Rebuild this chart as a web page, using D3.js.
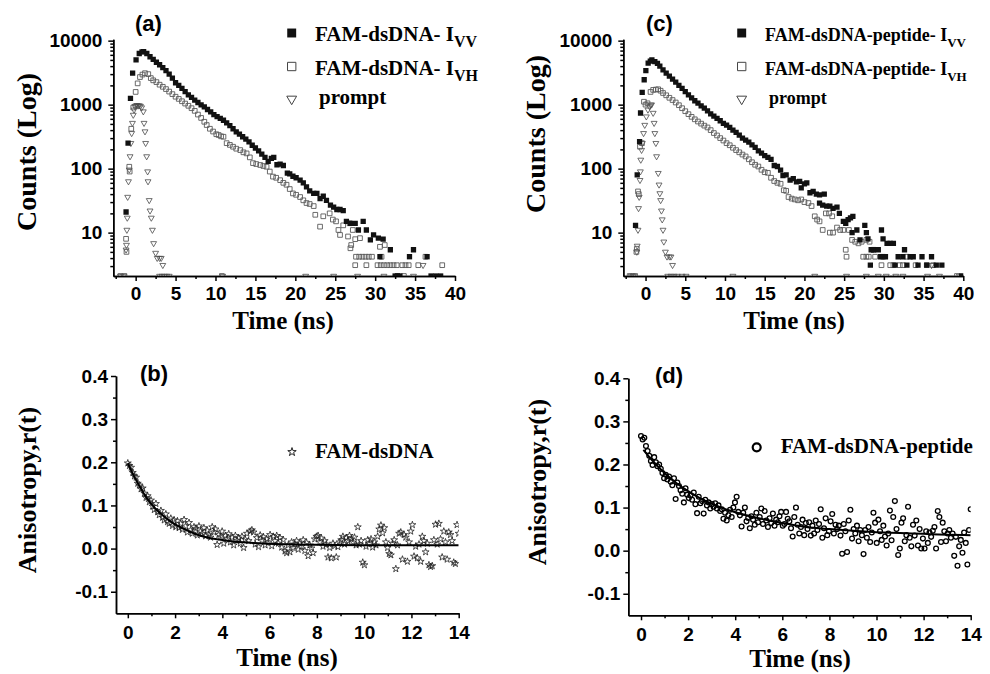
<!DOCTYPE html>
<html>
<head>
<meta charset="utf-8">
<title>FAM-dsDNA decay and anisotropy</title>
<style>
  body { margin: 0; background: #fff; }
  svg { display: block; background: #fff; }
  .tick text { font-family: "Liberation Sans", Arial, sans-serif; font-weight: bold; font-size: 19px; fill: #000; }
  .title { font-family: "Liberation Serif", "Times New Roman", serif; font-weight: bold; fill: #000; }
  .panel { font-family: "Liberation Sans", Arial, sans-serif; font-weight: bold; }
  .legend { font-family: "Liberation Serif", "Times New Roman", serif; font-weight: bold; }
</style>
<script src="https://d3js.org/d3.v7.min.js"></script>
</head>
<body>
<div id="chart"></div>
<script>
// ---- data: [time (ns), counts] ----
var ivvA = [[-1.2,21],[-0.95,250],[-0.65,1250],[-0.38,3100],[0.05,5000],[0.45,6300],[0.8,6700],[1.0,6750],
  [1.4,6300],[1.8,5600],[2.2,5100],[2.6,4600],[3.0,4200],[3.4,3800],[3.8,3400],[4.2,3000],[4.6,2600],[5.0,2200],
  [5.4,2000],[5.8,1800],[6.2,1600],[6.6,1420],[7.0,1300],[7.4,1180],[7.8,1080],[8.2,990],[8.6,920],[9.0,840],
  [9.4,770],[9.8,700],[10.2,650],[10.6,610],[11.0,570],[11.4,520],[11.8,470],[12.2,420],[12.6,375],[13.0,345],
  [13.4,315],[13.8,290],[14.2,262],[14.6,232],[15.0,210],[15.4,190],[15.8,168],[16.2,150],[16.6,130],[17.0,145],
  [17.3,150],[17.7,115],[18.1,118],[18.5,112],[19.0,85],[19.3,83],[19.7,76],[20.1,72],[20.6,66],[21.0,60],
  [21.4,52],[21.8,45],[22.3,41],[22.7,41],[23.1,34],[23.5,37],[23.9,32],[24.4,27],[24.8,25],[25.2,23],[25.6,23],
  [26.0,22],[26.4,15],[26.9,14],[27.5,14],[27.9,11],[28.5,15],[28.9,11],[29.4,7.7],[29.8,9.2],[30.4,8.2],
  [30.6,4.2],[31.0,7.9],[31.9,5.4],[32.5,2.1],[32.8,2.1],[33.1,2.1],[34.3,4.2],[34.8,5.4],[36.5,4.2],[37.0,2.1],
  [37.6,2.1],[38.2,2.1]];
var ivhA = [[-1.9,2.1],[-1.4,2.1],[-1.2,8],[-1.15,5],[-0.8,107],[-0.75,90],[-0.55,420],[-0.3,900],[0.0,1580],
  [0.25,2150],[0.54,2700],[0.85,2950],[1.17,3100],[1.58,3000],[1.9,2600],[2.2,2400],[2.6,2250],[3.0,2050],
  [3.4,1900],[3.8,1750],[4.2,1600],[4.6,1460],[5.0,1330],[5.4,1230],[5.8,1130],[6.2,1040],[6.6,960],[7.0,880],
  [7.4,800],[7.8,700],[8.2,620],[8.6,540],[8.9,480],[9.3,420],[9.7,380],[10.1,345],[10.4,335],[10.7,320],
  [11.0,315],[11.4,250],[11.8,235],[12.2,220],[12.6,205],[13.1,195],[13.5,180],[13.9,173],[14.3,150],[14.7,122],
  [15.1,118],[15.6,114],[16.0,110],[16.4,107],[16.8,90],[17.2,75],[17.6,72],[18.1,66],[18.5,60],[18.9,56],
  [19.3,48],[19.7,41],[20.1,39],[20.6,36],[21.0,32],[21.4,29],[21.8,28],[22.3,26],[22.5,19],[23.1,12.4],
  [23.5,18],[24.3,20],[24.7,16],[25.1,15],[25.4,11],[25.6,9.2],[26.0,13],[26.6,8.7],[26.8,14],[26.9,5.7],
  [27.0,6.4],[27.2,11],[27.5,7.9],[28.1,8.2],[27.6,4.2],[28.0,4.2],[28.4,4.2],[28.8,4.2],[29.2,4.2],[29.6,4.2],
  [30.6,6.0],[31.2,6.4],[30.8,4.2],[27.5,3.1],[28.9,3.1],[30.3,3.1],[30.7,3.1],[31.1,3.1],[31.5,3.1],[31.9,3.1],
  [32.3,3.1],[32.7,3.1],[33.4,3.1],[33.8,3.1],[34.2,3.1],[35.4,3.1],[36.3,4.2],[38.4,3.1],[10.8,2.1],[32.8,2.1],
  [33.6,2.1]];
var promptA = [[-1.9,2.1],[-1.5,2.1],[-1.2,5.4],[-1.15,6.4],[-1.1,11],[-1.05,17],[-1.0,36],[-0.9,63],[-0.8,96],
  [-0.7,155],[-0.6,250],[-0.5,357],[-0.4,515],[-0.3,690],[-0.2,830],[-0.1,940],[0.0,960],[0.15,980],[0.3,960],
  [0.45,970],[0.6,950],[0.75,900],[0.96,780],[1.05,515],[1.17,380],[1.25,250],[1.38,155],[1.5,90],[1.55,63],
  [1.7,32],[1.8,22],[1.96,17],[2.1,11],[2.25,6.8],[2.5,4.8],[2.7,4.0],[3.0,4.0],[3.2,4.0],[3.4,3.1],[3.0,2.1],
  [3.3,2.1],[3.6,2.1],[3.9,2.1],[4.2,2.1],[10.9,2.1],[21.3,2.1],[24.8,2.1],[27.8,2.1],[31.1,2.1],[34.8,2.1],
  [36.0,3.1]];

var ivvC = [[-1.26,13],[-1.05,80],[-0.75,265],[-0.63,740],[-0.42,1550],[-0.17,2450],[0.04,3400],[0.33,4460],
  [0.6,4800],[0.8,5000],[1.17,4700],[1.5,4400],[1.8,4000],[2.2,3500],[2.6,3100],[3.0,2800],[3.4,2500],[3.8,2250],
  [4.2,2000],[4.6,1800],[5.0,1600],[5.4,1420],[5.8,1280],[6.2,1150],[6.6,1060],[7.0,960],[7.4,880],[7.8,800],
  [8.2,720],[8.6,660],[9.0,610],[9.4,560],[9.8,510],[10.2,480],[10.6,440],[11.0,400],[11.4,370],[11.8,335],
  [12.2,300],[12.6,280],[13.0,260],[13.4,235],[13.8,215],[14.2,190],[14.6,175],[15.0,160],[15.4,150],[15.8,140],
  [16.2,112],[16.6,108],[17.0,95],[17.3,78],[17.7,80],[18.2,66],[18.6,70],[19.0,62],[19.4,63],[19.6,50],
  [20.0,58],[20.3,60],[20.7,42],[21.1,44],[21.5,40],[21.9,39],[22.5,40],[21.9,29],[22.3,27],[22.8,26],[23.2,26],
  [23.6,24],[24.1,25],[24.4,20],[24.9,15],[25.2,14],[25.5,16],[25.8,17],[26.1,18],[26.0,10],[26.6,11],[27.0,7.7],
  [27.6,13],[27.8,10],[28.0,8],[28.4,5.4],[28.7,5.4],[29.3,5.4],[29.7,11],[29.9,8],[30.4,6.8],[30.8,6.8],
  [31.2,6.8],[28.3,3.1],[29.6,4.2],[30.2,4.2],[31.4,3.1],[31.8,4.2],[32.4,4.2],[32.6,5.4],[32.9,3.1],[33.3,4.2],
  [33.7,4.2],[34.3,3.1],[34.8,4.2],[35.4,3.1],[36.0,4.2],[36.6,3.1],[37.3,3.1],[39.8,2.1]];
var ivhC = [[-2.0,2.1],[-1.6,2.1],[-1.3,2.1],[-1.15,5.0],[-1.1,5.6],[-0.95,44],[-0.85,40],[-0.7,220],[-0.45,250],
  [-0.2,1110],[0.0,1000],[0.25,1050],[0.63,1580],[0.96,1700],[1.3,1720],[1.59,1740],[1.9,1650],[2.2,1520],
  [2.6,1400],[3.0,1280],[3.4,1180],[3.8,1080],[4.2,980],[4.6,880],[5.0,790],[5.4,710],[5.8,645],[6.2,590],
  [6.6,545],[7.0,505],[7.4,470],[7.8,440],[8.2,400],[8.6,360],[9.0,330],[9.4,300],[9.8,275],[10.2,250],[10.6,232],
  [11.0,212],[11.4,195],[11.8,180],[12.2,166],[12.6,155],[13.0,140],[13.4,126],[13.8,115],[14.2,108],[14.6,96],
  [15.0,88],[15.4,86],[15.8,72],[16.2,64],[16.6,60],[17.0,58],[17.4,46],[17.7,45],[18.0,36],[18.4,34],[18.8,33],
  [19.2,32],[19.6,33],[20.0,30],[20.5,29],[20.9,26],[21.3,18],[21.6,16],[21.9,15],[22.3,11],[22.7,20],[23.1,20],
  [23.5,18],[23.2,10],[23.6,10],[24.1,12],[24.5,11],[24.9,11],[25.2,5.4],[25.3,4.2],[25.6,11],[26.0,7.7],
  [26.4,7.2],[26.8,6.8],[27.2,7.2],[27.8,7.7],[28.2,7.2],[28.7,5.4],[27.4,4.2],[27.8,4.2],[28.1,4.2],[28.9,4.2],
  [29.9,4.2],[32.9,4.2],[29.7,3.1],[30.8,3.1],[31.2,3.1],[32.0,3.1],[32.4,3.1],[34.0,3.1],[35.4,3.1],[36.2,3.1],
  [39.2,2.1]];
var promptC = [[-1.8,2.1],[-1.5,2.1],[-1.1,5.0],[-1.05,6.2],[-0.95,11],[-0.88,24],[-0.8,36],[-0.7,66],[-0.65,90],
  [-0.6,137],[-0.5,195],[-0.4,250],[-0.25,357],[-0.1,480],[0.1,650],[0.3,830],[0.5,940],[0.65,990],[0.76,1000],
  [0.96,740],[1.08,515],[1.17,357],[1.3,250],[1.39,155],[1.6,85],[1.7,56],[1.8,41],[1.9,32],[2.0,22],[2.1,16],
  [2.2,11],[2.3,7.2],[2.5,5.0],[2.7,4.2],[3.0,4.2],[3.2,4.2],[3.4,3.1],[2.8,2.1],[3.2,2.1],[3.6,2.1],[4.0,2.1],
  [4.6,2.1],[5.1,2.1],[11.0,2.1],[21.3,2.1],[25.3,2.1],[27.8,2.1],[29.3,2.1],[30.3,2.1],[31.5,2.1],[32.4,2.1],
  [35.5,2.1],[36.0,3.1],[37.0,2.1],[39.5,2.1]];

// ---- anisotropy r(t), one value every 0.07 ns from t = 0 ----
var anisoStep = 0.07;
var rB = [0.198,0.192,0.188,0.176,0.168,0.165,0.151,0.147,0.138,0.140,0.128,0.118,0.122,0.108,0.112,
  0.098,0.090,0.104,0.085,0.078,0.088,0.072,0.066,0.080,0.062,0.058,0.070,0.053,0.066,0.050,
  0.064,0.048,0.058,0.044,0.067,0.052,0.038,0.060,0.043,0.035,0.050,0.046,0.031,0.052,0.040,
  0.035,0.048,0.029,0.042,0.033,0.026,0.050,0.038,0.045,0.009,0.032,0.027,0.040,0.012,0.030,
  0.022,0.034,0.015,0.026,0.008,0.030,0.019,0.024,0.012,0.028,0.002,0.021,0.035,0.018,0.040,
  0.043,0.038,0.010,0.025,0.004,0.031,0.019,0.027,0.008,0.022,0.015,0.032,0.006,0.028,0.018,
  0.030,0.012,0.025,0.003,0.020,-0.006,-0.010,0.008,-0.008,0.015,0.002,0.010,0.018,-0.002,0.012,
  0.005,0.020,-0.005,0.014,-0.017,0.008,0.001,-0.010,0.022,0.028,0.030,0.015,0.024,0.005,0.018,
  0.010,-0.020,0.002,-0.022,0.012,0.006,-0.020,0.004,0.015,0.020,0.028,0.010,0.025,0.018,0.030,
  0.022,0.015,0.026,0.008,0.050,0.010,0.018,-0.032,-0.038,0.005,0.020,0.012,0.022,0.003,0.015,
  0.008,0.028,0.045,0.054,0.036,0.048,0.015,0.002,-0.012,-0.015,0.012,0.020,-0.047,0.008,0.035,
  0.038,-0.025,0.032,0.026,-0.030,0.015,0.040,0.055,-0.018,0.005,-0.022,0.010,-0.030,0.028,0.018,
  -0.008,0.012,-0.038,-0.042,-0.040,0.020,0.056,0.010,0.058,0.022,-0.020,0.040,0.015,-0.025,0.038,
  0.032,0.018,-0.032,-0.035,0.055,0.035];
var rD = [0.266,0.258,0.262,0.243,0.231,0.220,0.208,0.199,0.217,0.205,0.196,0.200,0.190,0.180,0.168,
  0.176,0.165,0.172,0.160,0.152,0.168,0.120,0.158,0.150,0.140,0.132,0.112,0.145,0.130,0.122,
  0.128,0.118,0.135,0.108,0.087,0.125,0.110,0.115,0.086,0.118,0.105,0.112,0.098,0.108,0.102,
  0.110,0.098,0.105,0.092,0.096,0.074,0.088,0.070,0.082,0.095,0.078,0.100,0.112,0.125,0.090,
  0.082,0.056,0.088,0.100,0.068,0.076,0.052,0.080,0.072,0.060,0.088,0.066,0.078,0.098,0.062,
  0.092,0.070,0.055,0.075,0.064,0.086,0.058,0.072,0.066,0.080,0.090,0.058,0.062,0.090,0.074,
  0.068,0.052,0.033,0.078,0.100,0.060,0.040,0.055,0.072,0.036,0.064,0.050,0.066,0.035,0.058,
  0.040,0.070,0.048,0.062,0.096,0.030,0.052,0.075,0.036,0.045,0.068,0.085,0.040,0.060,0.050,
  0.058,0.035,-0.007,0.062,0.045,-0.003,0.070,0.095,0.028,0.050,0.040,0.058,0.022,0.048,0.036,
  -0.008,0.048,0.030,0.055,0.020,0.042,0.088,0.065,0.018,0.072,0.045,0.025,0.058,0.033,0.012,
  0.040,0.093,0.024,0.078,0.115,0.050,-0.010,0.005,0.065,0.075,0.022,0.036,0.102,0.030,0.010,
  0.060,0.035,0.070,0.012,0.050,0.005,0.028,0.005,0.045,0.018,0.042,0.032,0.046,0.055,0.005,
  0.092,0.078,0.020,0.065,0.045,0.022,0.040,0.048,0.030,0.040,-0.012,0.032,-0.035,0.010,0.025,
  -0.005,0.042,0.018,-0.032,0.048,0.096];

// fitted curves [time, r]
var fitB = [[0,0.198],[0.25,0.169],[0.5,0.144],[0.75,0.121],[1,0.103],[1.25,0.088],[1.5,0.076],[1.75,0.065],
  [2,0.056],[2.5,0.042],[3,0.031],[3.5,0.024],[4,0.020],[4.5,0.016],[5,0.014],[6,0.011],[7,0.0095],[8,0.009],
  [10,0.008],[12,0.008],[14,0.008]];
var fitD = [[0.1,0.234],[0.5,0.208],[1,0.180],[1.5,0.157],[2,0.138],[2.5,0.122],[3,0.109],[3.5,0.098],[4,0.089],
  [5,0.075],[6,0.064],[7,0.055],[8,0.050],[9,0.046],[10,0.043],[11,0.041],[12,0.039],[13,0.037],[14,0.036]];

// ticks
var timeTicks = [0, 5, 10, 15, 20, 25, 30, 35, 40];
var timeMinor = [-2.5, 2.5, 7.5, 12.5, 17.5, 22.5, 27.5, 32.5, 37.5];
var countTicks = [10, 100, 1000, 10000];
var anisoXTicks = [0, 2, 4, 6, 8, 10, 12, 14];
var anisoXMinor = [1, 3, 5, 7, 9, 11, 13];
var anisoYTicks = [-0.1, 0, 0.1, 0.2, 0.3, 0.4];
var anisoYMinor = [-0.05, 0.05, 0.15, 0.25, 0.35];

var svg = d3.select("#chart").append("svg").attr("width", 990).attr("height", 674);

function styleAxis(g) {
  g.selectAll("path, line").attr("stroke", "#000").attr("stroke-width", 1.5);
}

function drawAxes(x, y, xt, xm, yt, ym, yfmt, ypad, xpad) {
  var y0 = y.range()[0], x0 = x.range()[0];
  svg.append("g").attr("transform", "translate(0," + y0 + ")")
    .call(d3.axisBottom(x).tickValues(xm).tickSize(3).tickSizeOuter(0).tickFormat(""))
    .call(styleAxis);
  svg.append("g").attr("transform", "translate(0," + y0 + ")")
    .call(d3.axisBottom(x).tickValues(xt).tickSize(5).tickSizeOuter(0).tickPadding(xpad))
    .call(styleAxis);
  svg.append("g").attr("transform", "translate(" + x0 + ",0)")
    .call(d3.axisLeft(y).tickValues(ym).tickSize(3).tickSizeOuter(0).tickFormat(""))
    .call(styleAxis);
  svg.append("g").attr("transform", "translate(" + x0 + ",0)")
    .call(d3.axisLeft(y).tickValues(yt).tickSize(5).tickSizeOuter(0).tickPadding(ypad).tickFormat(yfmt))
    .call(styleAxis);
}

function clipFor(id, x, y) {
  var r = x.range(), d = y.range();
  svg.append("clipPath").attr("id", id).append("rect")
    .attr("x", r[0]).attr("y", d[1] - 10).attr("width", r[1] - r[0]).attr("height", d[0] - d[1] + 10);
  return "url(#" + id + ")";
}

function scatter(g, data, x, y, shape, size, fill, stroke, sw, rot) {
  var sym = d3.symbol().type(shape).size(size);
  g.selectAll(null).data(data).enter().append("path")
    .attr("d", sym)
    .attr("transform", function(d) { return "translate(" + x(d[0]) + "," + y(d[1]) + ")" + (rot ? " rotate(180)" : ""); })
    .attr("fill", fill).attr("stroke", stroke).attr("stroke-width", sw);
}

function addText(cls, x, y, txt, size, anchor, rotate) {
  var t = svg.append("text").attr("class", cls).style("font-size", size + "px")
    .attr("text-anchor", anchor || "start")
    .attr("transform", "translate(" + x + "," + y + ")" + (rotate ? " rotate(-90)" : ""))
    .text(txt);
  return t;
}

function legendRow(x, y, shape, size, fill, stroke, sw, rot, tx, ty, fs, label, sub) {
  svg.append("path").attr("d", d3.symbol().type(shape).size(size)())
    .attr("transform", "translate(" + x + "," + y + ")" + (rot ? " rotate(180)" : ""))
    .attr("fill", fill).attr("stroke", stroke).attr("stroke-width", sw);
  var t = svg.append("text").attr("class", "legend").style("font-size", fs + "px").attr("x", tx).attr("y", ty).text(label);
  if (sub) t.append("tspan").style("font-size", (fs - 5) + "px").attr("dy", 6).text(sub);
}

function minorLog(domain) {
  var out = [];
  [1, 10, 100, 1000].forEach(function(dec) {
    for (var k = 2; k <= 9; k++) {
      var v = k * dec;
      if (v >= domain[0] && v <= domain[1]) out.push(v);
    }
  });
  return out;
}

function decayPanel(opt) {
  var x = d3.scaleLinear().domain([-2.8, 40]).range(opt.xr);
  var y = d3.scaleLog().domain([2.1, 10500]).range([276, 39.3]);
  drawAxes(x, y, timeTicks, timeMinor, countTicks, minorLog(y.domain()), function(d) { return String(d); }, 6, 6);
  var g = svg.append("g").attr("clip-path", clipFor(opt.id, x, y));
  scatter(g, opt.prompt, x, y, d3.symbolTriangle, 15, "none", "#4a4a4a", 0.8, true);
  scatter(g, opt.ivh, x, y, d3.symbolSquare, 22, "none", "#5a5a5a", 0.9, false);
  scatter(g, opt.ivv, x, y, d3.symbolSquare, 28, "#111", "none", 0, false);
  addText("panel", opt.label[0], 31, opt.label[1], 22);
  addText("title", opt.ytitle[0], opt.ytitle[1], "Counts (Log)", 28, "middle", true);
  addText("title", opt.xtitle, 329, "Time (ns)", 25, "middle");
  var lx = opt.legend[0], tx = opt.legend[1], fs = opt.legend[2];
  legendRow(lx, 33, d3.symbolSquare, 80, "#111", "none", 0, false, tx, 41, fs, opt.name + "- I", "VV");
  legendRow(lx, 66.5, d3.symbolSquare, 70, "none", "#444", 1, false, tx, 75, fs, opt.name + "- I", "VH");
  legendRow(lx, 99, d3.symbolTriangle, 42, "none", "#444", 1, true, tx + 4, 104, fs, "prompt");
}

function anisoPanel(opt) {
  var x = d3.scaleLinear().domain(opt.xd).range(opt.xr);
  var y = d3.scaleLinear().domain([-0.15, 0.4]).range(opt.yr);
  drawAxes(x, y, anisoXTicks, anisoXMinor, anisoYTicks, anisoYMinor, function(d) { return d.toFixed(1); }, 3, 7);
  var pts = opt.r.map(function(v, i) { return [i * anisoStep, v]; });
  var g = svg.append("g").attr("clip-path", clipFor(opt.id, x, y));
  if (opt.star) {
    scatter(g, pts, x, y, d3.symbolStar, 15, "none", "#222", 0.8, false);
  } else {
    g.selectAll(null).data(pts).enter().append("circle")
      .attr("cx", function(d) { return x(d[0]); }).attr("cy", function(d) { return y(d[1]); })
      .attr("r", 2.4).attr("fill", "none").attr("stroke", "#000").attr("stroke-width", 1.3);
  }
  g.append("path").datum(opt.fit)
    .attr("d", d3.line().x(function(d) { return x(d[0]); }).y(function(d) { return y(d[1]); }).curve(d3.curveMonotoneX))
    .attr("fill", "none").attr("stroke", "#000").attr("stroke-width", 2);
  addText("panel", opt.label[0], opt.label[1], opt.label[2], 22);
  addText("title", opt.ytitle[0], opt.ytitle[1], "Anisotropy,r(t)", 26, "middle", true);
  addText("title", opt.xtitle[0], opt.xtitle[1], "Time (ns)", 25, "middle");
  if (opt.star) {
    svg.append("path").attr("d", d3.symbol().type(d3.symbolStar).size(22)())
      .attr("transform", "translate(" + opt.legend[0] + "," + opt.legend[1] + ")")
      .attr("fill", "none").attr("stroke", "#222").attr("stroke-width", 1);
  } else {
    svg.append("circle").attr("cx", opt.legend[0]).attr("cy", opt.legend[1]).attr("r", 4)
      .attr("fill", "none").attr("stroke", "#000").attr("stroke-width", 2.2);
  }
  svg.append("text").attr("class", "legend").style("font-size", "21px")
    .attr("x", opt.legend[2]).attr("y", opt.legend[3]).text(opt.name);
}

decayPanel({id: "clipA", xr: [113.3, 455], ivv: ivvA, ivh: ivhA, prompt: promptA,
  label: [135, "(a)"], ytitle: [36, 152], xtitle: 283, legend: [291.7, 315, 21], name: "FAM-dsDNA"});
decayPanel({id: "clipC", xr: [623.3, 963.3], ivv: ivvC, ivh: ivhC, prompt: promptC,
  label: [646, "(c)"], ytitle: [545, 134], xtitle: 794, legend: [741.7, 765, 18], name: "FAM-dsDNA-peptide"});
anisoPanel({id: "clipB", xd: [-0.5, 14], xr: [116, 458.7], yr: [613.3, 376], r: rB, fit: fitB, star: true,
  label: [140, 381, "(b)"], ytitle: [36, 490], xtitle: [287, 666], legend: [292, 452, 315, 458], name: "FAM-dsDNA"});
anisoPanel({id: "clipD", xd: [-0.54, 14], xr: [628.3, 970.7], yr: [615.3, 378.3], r: rD, fit: fitD, star: false,
  label: [655, 383, "(d)"], ytitle: [546, 482], xtitle: [800, 667], legend: [756.7, 447.3, 780.7, 453], name: "FAM-dsDNA-peptide"});
</script>
</body>
</html>
